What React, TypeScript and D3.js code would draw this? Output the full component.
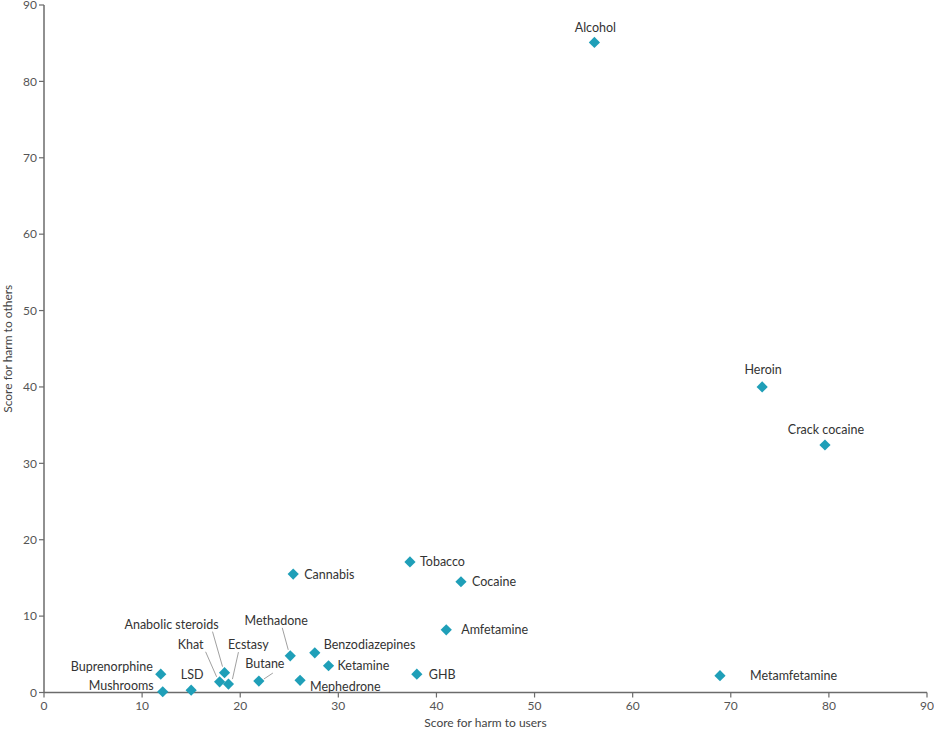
import React from "react";
import * as d3 from "d3";

const drugs = ["Alcohol","Heroin","Crack cocaine","Metamfetamine","Cocaine","Tobacco","Amfetamine","Cannabis","GHB","Benzodiazepines","Ketamine","Methadone","Mephedrone","Butane","Khat","Anabolic steroids","Ecstasy","LSD","Buprenorphine","Mushrooms"];
const harmToUsers = [56.1,73.2,79.6,68.9,42.5,37.3,41.0,25.4,38.0,27.6,29.0,25.1,26.1,21.9,17.9,18.4,18.8,15.0,11.9,12.1];
const harmToOthers = [85.1,40.0,32.4,2.2,14.5,17.1,8.2,15.5,2.4,5.2,3.5,4.8,1.6,1.5,1.4,2.6,1.1,0.3,2.4,0.1];
const xTicks = [0,10,20,30,40,50,60,70,80,90];
const yTicks = [0,10,20,30,40,50,60,70,80,90];

// label placement (pixel offsets from the point) and optional leader lines
type Place = { dx: number; dy: number; anchor: string; line?: [number, number, number, number] };
const placement: Record<string, Place> = {
  "Alcohol": { dx: 1, dy: -15, anchor: "middle" },
  "Heroin": { dx: 1, dy: -17, anchor: "middle" },
  "Crack cocaine": { dx: 1, dy: -15, anchor: "middle" },
  "Metamfetamine": { dx: 30, dy: 0, anchor: "start" },
  "Cocaine": { dx: 11, dy: 0, anchor: "start" },
  "Tobacco": { dx: 10, dy: 0, anchor: "start" },
  "Amfetamine": { dx: 15, dy: 0, anchor: "start" },
  "Cannabis": { dx: 11, dy: 1, anchor: "start" },
  "GHB": { dx: 12, dy: 0, anchor: "start" },
  "Benzodiazepines": { dx: 9, dy: -8, anchor: "start" },
  "Ketamine": { dx: 9, dy: 0, anchor: "start" },
  "Methadone": { dx: -14, dy: -35, anchor: "middle", line: [-8, -28, -2, -6] },
  "Mephedrone": { dx: 10, dy: 6, anchor: "start" },
  "Butane": { dx: 6, dy: -17, anchor: "middle", line: [14, -8, 5, -2] },
  "Khat": { dx: -29, dy: -37, anchor: "middle", line: [-14, -30, -3, -5] },
  "Anabolic steroids": { dx: -53, dy: -48, anchor: "middle", line: [-12, -41, -2, -6] },
  "Ecstasy": { dx: 20, dy: -39, anchor: "middle", line: [10, -32, 4, -5] },
  "LSD": { dx: 1, dy: -16, anchor: "middle" },
  "Buprenorphine": { dx: -8, dy: -8, anchor: "end" },
  "Mushrooms": { dx: -9, dy: -6, anchor: "end" },
};

const W = 934, H = 730;
const margin = { left: 44, top: 5, right: 7, bottom: 37.5 };
const FONT = "Lato, 'Open Sans', sans-serif";

export default function App() {
  const x = d3.scaleLinear().domain([0, 90]).range([margin.left, W - margin.right]);
  const y = d3.scaleLinear().domain([0, 90]).range([H - margin.bottom, margin.top]);
  const axisColor = "#6b6b6b";
  const tickText = "#555";
  const diamond = d3.symbol().type(d3.symbolDiamond2).size(80)() as string;
  return (
    <svg width={W} height={H} style={{ position: "absolute", left: 0, top: 0, background: "#fff" }} fontFamily={FONT}>
      {/* axes */}
      <line x1={x(0)} x2={x(90)} y1={y(0)} y2={y(0)} stroke={axisColor} strokeWidth={1.5} />
      <line x1={x(0)} x2={x(0)} y1={y(0)} y2={y(90)} stroke={axisColor} strokeWidth={1.5} />
      {xTicks.map((t) => (
        <g key={"x" + t}>
          <line x1={x(t)} x2={x(t)} y1={y(0)} y2={y(0) + 5} stroke={axisColor} strokeWidth={1.2} />
          <text x={x(t)} y={y(0) + 17} textAnchor="middle" fontSize={12} fill={tickText}>{t}</text>
        </g>
      ))}
      {yTicks.map((t) => (
        <g key={"y" + t}>
          <line x1={x(0) - 5} x2={x(0)} y1={y(t)} y2={y(t)} stroke={axisColor} strokeWidth={1.2} />
          <text x={x(0) - 7} y={y(t)} dy="0.35em" textAnchor="end" fontSize={12} fill={tickText}>{t}</text>
        </g>
      ))}
      <text x={(x(0) + x(90)) / 2} y={727} textAnchor="middle" fontSize={12} fill="#444">Score for harm to users</text>
      <text transform={`translate(12,${(y(0) + y(90)) / 2}) rotate(-90)`} textAnchor="middle" fontSize={12} fill="#444">Score for harm to others</text>
      {/* leader lines */}
      {drugs.map((d, i) => {
        const p = placement[d];
        if (!p || !p.line) return null;
        const px = x(harmToUsers[i]), py = y(harmToOthers[i]);
        return <line key={"l" + d} x1={px + p.line[0]} y1={py + p.line[1]} x2={px + p.line[2]} y2={py + p.line[3]} stroke="#888" strokeWidth={0.8} />;
      })}
      {/* points */}
      {drugs.map((d, i) => (
        <path key={"p" + d} d={diamond} transform={`translate(${x(harmToUsers[i])},${y(harmToOthers[i])})`} fill="#1f9fb8" />
      ))}
      {/* labels */}
      {drugs.map((d, i) => {
        const p = placement[d];
        const px = x(harmToUsers[i]), py = y(harmToOthers[i]);
        return (
          <text key={"t" + d} x={px + p.dx} y={py + p.dy} dy="0.35em" textAnchor={p.anchor} fontSize={12.5} fill="#333">{d}</text>
        );
      })}
    </svg>
  );
}
